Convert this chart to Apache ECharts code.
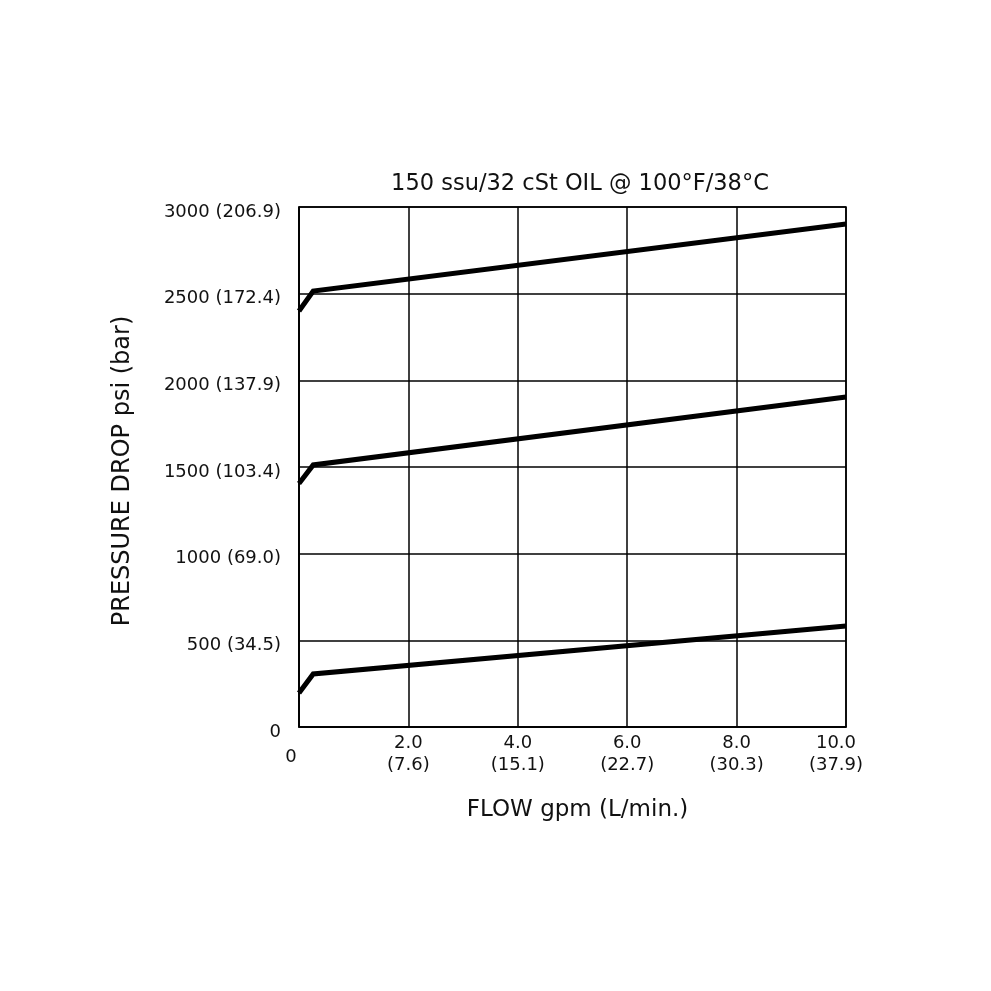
<!DOCTYPE html>
<html><head><meta charset="utf-8">
<script src="https://cdn.jsdelivr.net/npm/echarts@6/dist/echarts.min.js"></script>
<style>html,body{margin:0;padding:0;background:#fff}#c{width:991px;height:991px}</style>
</head><body><div id="c"></div>
<script>
const titleText = '150 ssu/32 cSt OIL @ 100°F/38°C';
const xName = 'FLOW gpm (L/min.)';
const yName = 'PRESSURE DROP psi (bar)';
const xTicks = [0, 2, 4, 6, 8, 10];
const xTickLabels = ['0', '2.0\n(7.6)', '4.0\n(15.1)', '6.0\n(22.7)', '8.0\n(30.3)', '10.0\n(37.9)'];
const yTicks = [0, 500, 1000, 1500, 2000, 2500, 3000];
const yTickLabels = ['0', '500 (34.5)', '1000 (69.0)', '1500 (103.4)', '2000 (137.9)', '2500 (172.4)', '3000 (206.9)'];
const flow = [0.0, 0.26, 10.0];
const curveHigh = [2400, 2515, 2902];
const curveMid = [1405, 1512, 1904];
const curveLow = [196, 306, 583];

const FONT = '"DejaVu Sans", sans-serif';
const chart = echarts.init(document.getElementById('c'), null, {renderer: 'canvas'});
function mk(vals) {
  return {
    type: 'line', data: flow.map((f, i) => [f, vals[i]]), symbol: 'none',
    lineStyle: {color: '#000', width: 5, cap: 'butt', join: 'miter'}, z: 5
  };
}
chart.setOption({
  animation: false,
  backgroundColor: '#fff',
  title: {text: titleText, left: 575, top: 168, textAlign: 'center',
    textStyle: {fontFamily: FONT, fontSize: 22.5, fontWeight: 'normal', color: '#111'}},
  grid: {left: 299, right: 145, top: 207, bottom: 264, show: true, borderColor: '#000', borderWidth: 1.5},
  xAxis: {
    type: 'value', min: 0, max: 10, interval: 2,
    name: xName, nameLocation: 'middle', nameGap: 72,
    nameTextStyle: {fontFamily: FONT, fontSize: 23, color: '#111', padding: [0, 0, 0, 10]},
    axisLine: {show: true, lineStyle: {color: '#000', width: 1.5}},
    axisTick: {show: false},
    splitLine: {show: true, lineStyle: {color: '#000', width: 1.5}},
    axisLabel: {
      margin: 5, fontFamily: FONT, fontSize: 18, color: '#111', lineHeight: 22,
      formatter: function (v) {
        const i = xTicks.indexOf(v);
        if (i === 0) return '{z|' + xTickLabels[0] + '}';
        if (i === xTicks.length - 1) return xTickLabels[i].split('\n').map(s => '{e|' + s + '}').join('\n');
        return xTickLabels[i];
      },
      rich: {
        z: {fontFamily: FONT, fontSize: 18, color: '#111', lineHeight: 22, padding: [28, 16, 0, 0]},
        e: {fontFamily: FONT, fontSize: 18, color: '#111', lineHeight: 22, padding: [0, 20, 0, 0]}
      }
    }
  },
  yAxis: {
    type: 'value', min: 0, max: 3000, interval: 500,
    name: yName, nameLocation: 'middle', nameGap: 164, nameRotate: 90,
    nameTextStyle: {fontFamily: FONT, fontSize: 24, color: '#111', padding: [0, 8, 0, 0]},
    axisLine: {show: true, lineStyle: {color: '#000', width: 1.5}},
    axisTick: {show: false},
    splitLine: {show: true, lineStyle: {color: '#000', width: 1.5}},
    axisLabel: {
      margin: 18, fontFamily: FONT, fontSize: 18, color: '#111',
      verticalAlign: 'top', lineHeight: 10,
      formatter: function (v) { return yTickLabels[yTicks.indexOf(v)]; }
    }
  },
  series: [mk(curveHigh), mk(curveMid), mk(curveLow)]
});
</script></body></html>
